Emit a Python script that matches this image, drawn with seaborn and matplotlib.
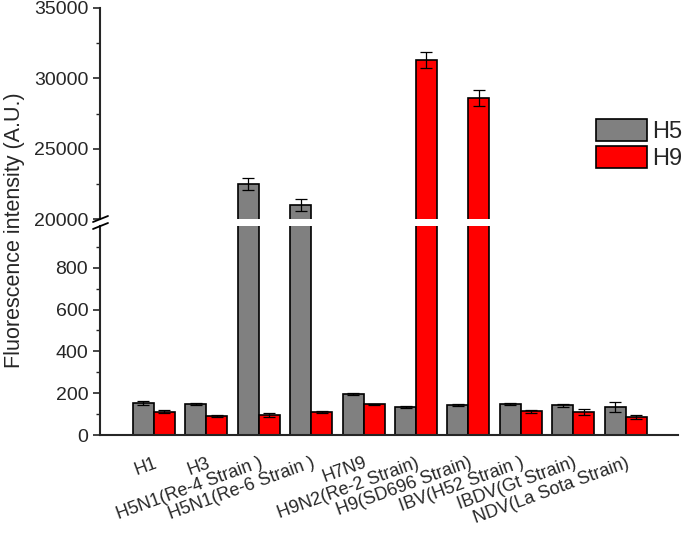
import numpy as np
import pandas as pd
import matplotlib
matplotlib.use("Agg")
import matplotlib.pyplot as plt
from matplotlib.lines import Line2D
from matplotlib.patches import Patch
import seaborn as sns

# Datos
strains = ["H1", "H3", "H5N1(Re-4 Strain )", "H5N1(Re-6 Strain )", "H7N9",
           "H9N2(Re-2 Strain)", "H9(SD696 Strain)", "IBV(H52 Strain )",
           "IBDV(Gt Strain)", "NDV(La Sota Strain)"]
h5 = [152, 147, 22500, 21000, 195, 134, 142, 149, 142, 134]
h5_err = [10, 4, 440, 430, 6, 4, 4, 4, 8, 22]
h9 = [112, 93, 94, 109, 147, 31300, 28600, 114, 109, 88]
h9_err = [7, 5, 10, 5, 3, 600, 600, 8, 15, 10]
groups = ["H5", "H9"]
colors = ["#808080", "#FF0000"]

df = pd.DataFrame({
    "Strain": strains * 2,
    "Value": h5 + h9,
    "Group": ["H5"] * len(strains) + ["H9"] * len(strains),
})
errs = [h5_err, h9_err]

sns.set_style("ticks")
plt.rcParams["font.family"] = ["Liberation Sans", "DejaVu Sans"]

fig = plt.figure(figsize=(6.83, 5.36), dpi=100)
ax_top = fig.add_axes([100 / 683, 1 - 219 / 536, 578 / 683, 211 / 536])
ax_bot = fig.add_axes([100 / 683, 1 - 435 / 536, 578 / 683, 209 / 536])

for ax in (ax_top, ax_bot):
    sns.barplot(data=df, x="Strain", y="Value", hue="Group", order=strains,
                hue_order=groups, palette=colors, saturation=1,
                edgecolor="black", linewidth=1.2, errorbar=None,
                legend=False, ax=ax)
    for cont, err in zip(ax.containers, errs):
        xs = [b.get_x() + b.get_width() / 2 for b in cont]
        ys = [b.get_height() for b in cont]
        ax.errorbar(xs, ys, yerr=err, fmt="none", ecolor="black",
                    elinewidth=0.9, capsize=4.5, capthick=0.9)
    ax.set_xlim(-1.03, 10.0)
    ax.set_xlabel("")
    ax.set_ylabel("")
    for s in ("top", "right"):
        ax.spines[s].set_visible(False)
    ax.spines["left"].set_linewidth(1.5)
    ax.spines["bottom"].set_linewidth(1.5)
    ax.tick_params(axis="y", labelsize=14, width=1.2, length=5)
    ax.tick_params(axis="y", which="minor", width=1.0, length=3)

ax_top.set_ylim(20000, 35000)
ax_top.set_yticks([20000, 25000, 30000, 35000])
ax_top.set_yticks([22500, 27500, 32500], minor=True)
ax_top.spines["bottom"].set_visible(False)
ax_top.set_xticks([])

ax_bot.set_ylim(0, 1000)
ax_bot.set_yticks([0, 200, 400, 600, 800])
ax_bot.set_yticks([100, 300, 500, 700, 900], minor=True)
ax_bot.tick_params(axis="x", length=0, pad=14, labelsize=13)
plt.setp(ax_bot.get_xticklabels(), rotation=20, ha="right", va="top",
         rotation_mode="anchor")

# Marcas de corte del eje
for yc in (219, 226):
    fig.add_artist(Line2D([93 / 683, 108 / 683],
                          [1 - (yc + 3) / 536, 1 - (yc - 3) / 536],
                          color="black", lw=1.3))

fig.text(15 / 683, 1 - 230 / 536, "Fluorescence intensity (A.U.)",
         rotation=90, va="center", ha="center", fontsize=15.5)

handles = [Patch(facecolor=c, edgecolor="black", linewidth=1.2) for c in colors]
ax_top.legend(handles, groups, loc="upper left",
              bbox_to_anchor=((596 - 100) / 578, (219 - 119) / 211),
              frameon=False, fontsize=17, handlelength=2.16, handleheight=1.06,
              labelspacing=0.12, handletextpad=0.2, borderpad=0, borderaxespad=0)

plt.savefig("out.png", dpi=100)
